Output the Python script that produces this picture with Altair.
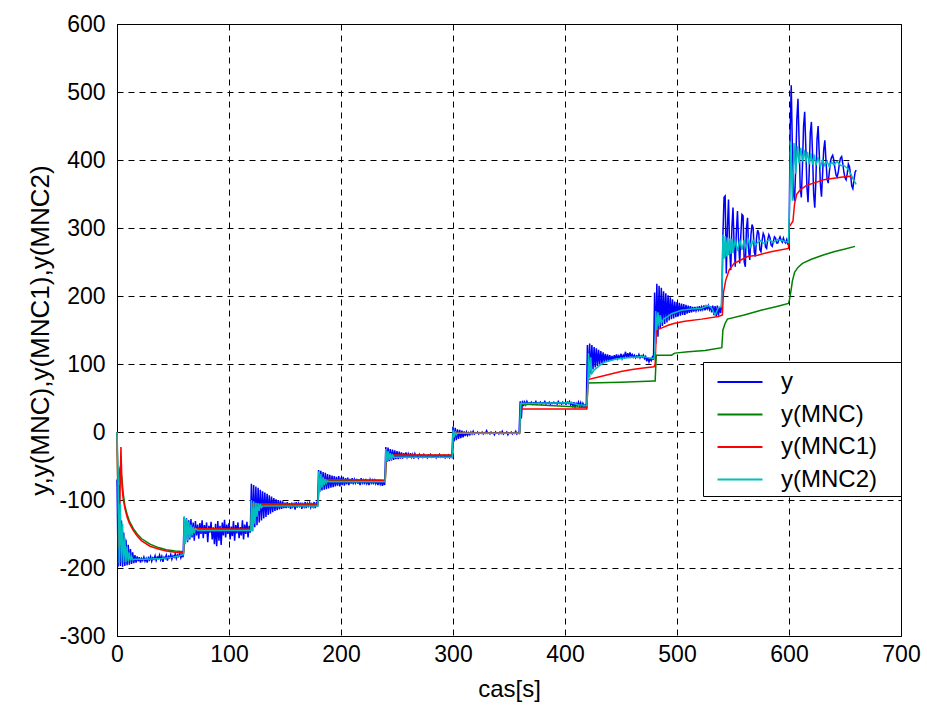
import altair as alt
import pandas as pd

SERIES = ["y", "y(MNC)", "y(MNC1)", "y(MNC2)"]
COLORS = ["#0000FF", "#008000", "#FF0000", "#00BFBF"]
X_TICKS = [0, 100, 200, 300, 400, 500, 600, 700]
Y_TICKS = [-300, -200, -100, 0, 100, 200, 300, 400, 500, 600]
X_TITLE = "cas[s]"
Y_TITLE = "y,y(MNC),y(MNC1),y(MNC2)"

# measured output y, one value per second, one list per 60 s step
blue_s1 = [-70, -198, -78, -197, -130, -198, -148, -197, -158, -196, -166, -195, -172, -194, -177, -193, -181, -192, -183, -190,
           -184, -192, -186, -189, -184, -190, -186, -192, -185, -188, -183, -190, -185, -187, -182, -189, -184, -186, -181, -188,
           -183, -191, -184, -186, -181, -189, -183, -185, -180, -187, -182, -184, -179, -186, -181, -183, -178, -185, -180, -184]
blue_s2 = [-125, -160, -127, -162, -130, -158, -128, -155, -133, -160, -131, -152, -136, -157, -134, -150, -130, -156, -137, -150,
           -133, -162, -138, -148, -132, -158, -140, -165, -135, -168, -131, -160, -138, -166, -133, -152, -129, -155, -136, -150,
           -134, -158, -139, -153, -131, -160, -137, -149, -133, -156, -140, -152, -130, -158, -136, -150, -132, -155, -138, -148]
blue_s3 = [-76, -146, -78, -140, -80, -137, -82, -133, -85, -130, -87, -127, -89, -125, -91, -122, -93, -120, -95, -118,
           -97, -116, -99, -115, -100, -114, -101, -113, -102, -112, -104, -112, -103, -111, -105, -113, -104, -110, -106, -114,
           -103, -111, -105, -109, -104, -113, -106, -110, -103, -112, -105, -109, -104, -111, -106, -110, -103, -112, -105, -109]
blue_s4 = [-56, -88, -57, -86, -59, -85, -60, -84, -62, -83, -63, -82, -64, -81, -65, -80, -66, -79, -65, -80,
           -67, -78, -66, -79, -68, -77, -67, -78, -69, -76, -68, -77, -70, -75, -69, -76, -70, -78, -68, -75,
           -71, -77, -69, -76, -72, -78, -70, -75, -71, -77, -69, -76, -72, -78, -70, -77, -73, -79, -72, -78]
blue_s5 = [-22, -44, -23, -43, -25, -42, -26, -41, -27, -40, -28, -40, -29, -39, -30, -39, -31, -38, -30, -37,
           -32, -38, -31, -37, -33, -39, -32, -36, -34, -38, -33, -36, -34, -37, -33, -36, -35, -38, -34, -36,
           -33, -37, -35, -36, -34, -38, -35, -36, -33, -37, -35, -36, -34, -38, -35, -37, -34, -38, -35, -37]
blue_s6 = [8, -14, 6, -12, 4, -10, 3, -9, 2, -8, 1, -6, 0, -5, -1, -4, 0, -3, 1, -3,
           -1, -2, 0, -3, -1, -2, 0, -3, -1, -2, 2, -2, -1, -3, 0, -2, -1, -4, 0, -2,
           -1, -3, 0, -2, 1, -3, -1, -2, 0, -4, -1, -2, 0, -3, -1, -2, 1, -3, -1, -2]
blue_s7 = [45, 20, 46, 38, 44, 40, 45, 41, 43, 42, 44, 41, 43, 42, 45, 41, 43, 42, 44, 41,
           43, 42, 45, 41, 43, 42, 44, 41, 43, 42, 44, 42, 43, 41, 45, 42, 43, 41, 44, 42,
           43, 41, 44, 42, 45, 40, 43, 38, 44, 37, 42, 39, 44, 38, 43, 36, 42, 38, 40, 37]
blue_s8 = [128, 80, 130, 86, 128, 92, 125, 95, 123, 97, 121, 99, 119, 101, 117, 103, 115, 104, 114, 104,
           113, 105, 112, 106, 113, 107, 114, 108, 112, 109, 115, 108, 113, 110, 118, 109, 116, 110, 117, 111,
           114, 110, 113, 109, 112, 110, 114, 109, 112, 110, 113, 108, 111, 104, 110, 103, 108, 105, 110, 106]
blue_s9 = [205, 130, 218, 140, 215, 152, 212, 156, 207, 159, 204, 161, 201, 164, 198, 166, 195, 167, 192, 169,
           191, 170, 190, 171, 189, 172, 188, 172, 187, 174, 186, 175, 185, 176, 184, 177, 184, 178, 183, 179,
           185, 178, 184, 180, 186, 179, 185, 181, 186, 180, 185, 176, 186, 172, 185, 170, 186, 171, 184, 175]
blue_s10 = [190, 290, 345, 347, 233, 300, 342, 270, 238, 300, 330, 275, 243, 295, 325, 280, 248, 290, 320, 318,
            250, 243, 300, 315, 265, 253, 290, 305, 300, 265, 258, 285, 297, 292, 268, 265, 282, 292, 288, 272,
            270, 283, 290, 286, 275, 273, 280, 287, 285, 278, 278, 283, 287, 282, 279, 285, 280, 278, 283, 276]
blue_s11 = [275, 440, 510, 420, 350, 340, 390, 460, 490, 430, 360, 345, 390, 450, 471, 420, 360, 338, 380, 440,
            456, 410, 350, 330, 370, 430, 450, 410, 365, 346, 380, 415, 429, 400, 372, 366, 382, 398, 404, 407,
            400, 388, 378, 375, 382, 395, 403, 405, 395, 382, 374, 371, 380, 394, 390, 378, 362, 358, 370, 382, 385]
blue_segments = [blue_s1, blue_s2, blue_s3, blue_s4, blue_s5, blue_s6, blue_s7, blue_s8, blue_s9, blue_s10, blue_s11]

# y(MNC) (time, value)
mnc_pts = [(0, 0), (1, -120), (2, -60), (3, -50), (4.5, -70), (5.5, -90), (7, -108), (9, -121), (11, -131), (14.6, -142),
           (18, -150), (22, -157), (29.5, -165), (37, -170), (44, -173), (52, -175), (59.5, -176),
           (60.5, -142.5), (119.5, -143.5), (120.5, -106.5), (179.5, -106.5), (180.5, -70.5), (239.5, -71.5),
           (240.5, -34.5), (299.5, -34.5), (300.5, -1.5), (359.5, -1.5), (360.5, 41), (419.5, 36),
           (420.5, 72), (450, 73), (479.5, 75), (480.5, 75), (481.5, 113), (495, 113), (498, 116), (510, 118),
           (525, 120), (540, 124), (541, 150), (543, 160), (545, 166), (560, 172), (575, 179), (590, 185),
           (599.5, 189), (600.5, 195), (602, 210), (603, 222), (605, 235), (608, 242), (612, 248), (620, 254),
           (630, 260), (640, 265), (650, 269), (659, 273)]

# y(MNC1)
mnc1_pts = [(0, 0), (0.7, -75), (1.5, -170), (2.5, -110), (3.5, -22), (4.5, -80), (5.5, -98), (7, -112), (9, -125),
            (11, -134), (14.6, -145), (18, -153), (22, -160), (29.5, -168), (37, -172), (44, -175), (52, -177),
            (59.5, -178), (60.5, -142), (119.5, -143), (120.5, -106), (179.5, -106), (180.5, -70), (239.5, -71),
            (240.5, -34), (299.5, -34), (300.5, -1), (359.5, -1), (360.5, 34), (419.5, 34),
            (420.5, 77), (430, 81), (440, 85), (450, 89), (460, 92), (470, 94), (479.5, 96),
            (480.5, 100), (481.5, 150), (485, 152), (492, 157), (498, 160), (507, 163), (522, 166), (537, 170),
            (540.5, 172), (541.5, 205), (543.5, 223), (546.5, 238), (551, 248), (557, 253), (563, 258), (572, 260),
            (584, 265), (599.5, 270), (600.3, 302), (603.5, 310), (605, 336), (607, 350), (610, 356), (616, 363),
            (622, 366), (631, 371), (640, 373), (648, 375), (654, 376), (656, 374), (659, 370)]

# y(MNC2)
mnc2_pts = [(0, 0), (1, -60), (2, -193), (3, -105), (4, -192), (5, -135), (6, -192), (7, -155), (8, -191), (9, -168),
            (10, -190), (11, -177), (12, -189), (13, -183), (14, -188), (16, -187), (25, -187), (40, -186), (50, -184),
            (56, -182), (59.5, -180),
            (60, -124), (61, -165), (62, -128), (63, -160), (64, -132), (65, -156), (66, -136), (67, -152), (68, -139),
            (69, -149), (70, -142), (72, -145), (119.5, -145),
            (120, -100), (121, -146), (122, -102), (123, -135), (124, -104), (125, -125), (126, -105), (127, -116),
            (128, -106), (129, -111), (130, -109), (179.5, -109),
            (180, -58), (181, -88), (182, -62), (183, -82), (184, -66), (185, -78), (186, -69), (187, -75), (188, -72),
            (189, -73), (239.5, -73),
            (240, -25), (241, -43), (242, -28), (243, -41), (244, -31), (245, -39), (246, -34), (247, -37), (299.5, -37),
            (300, 3), (301, -8), (302, 1), (303, -4), (304, -2), (359.5, -2),
            (360.5, 42), (405, 43), (412, 40), (419.5, 39),
            (420.5, 75), (421, 116), (422, 80), (423, 110), (424, 86), (426, 91), (431, 98), (436, 103), (445, 107),
            (454, 109), (469, 111), (475, 109), (479.5, 108),
            (480.5, 120), (481, 178), (482, 150), (483, 176), (484, 156), (485, 172), (486, 160), (488, 166),
            (490, 168), (495, 174), (504, 179), (513, 181), (522, 182), (528, 186), (531, 182), (534, 172),
            (537, 183), (539.5, 184),
            (540.5, 230), (541, 290), (542, 255), (543, 288), (544, 258), (545, 286), (546, 260), (547, 285),
            (548, 262), (549, 284), (550, 263), (552, 283), (554, 266), (556, 283), (558, 268), (560, 282),
            (562, 270), (564, 283), (566, 272), (568, 282), (570, 275), (574, 282), (578, 277), (582, 283),
            (586, 279), (590, 283), (595, 281), (599.5, 279),
            (600.5, 330), (601.5, 427), (603, 340), (604.5, 425), (606, 380), (607.5, 420), (609, 395), (610.5, 418),
            (612, 398), (613.5, 415), (615, 396), (616.5, 412), (618, 394), (619.5, 410), (621, 393), (622.5, 408),
            (624, 392), (626, 404), (628, 390), (630, 400), (632, 392), (634, 398), (636, 390), (638, 397),
            (640, 393), (643, 398), (646, 392), (649, 392), (652, 388), (655, 380), (658, 370), (660, 364)]

rows = []
for k, seg in enumerate(blue_segments):
    for i, v in enumerate(seg):
        rows.append((60 * k + i, v, "y"))
for name, pts in [("y(MNC)", mnc_pts), ("y(MNC1)", mnc1_pts), ("y(MNC2)", mnc2_pts)]:
    for t, v in pts:
        rows.append((t, v, name))
df = pd.DataFrame(rows, columns=["t", "v", "series"])

FONT = "Liberation Sans"
NBSP = "\u00a0"

color = alt.Color(
    "series:N",
    scale=alt.Scale(domain=SERIES, range=COLORS),
    legend=alt.Legend(
        title=NBSP,
        titleOrient="right",
        titlePadding=20,
        titleFontSize=24,
        titleFont=FONT,
        orient="none",
        legendX=586,
        legendY=338,
        direction="vertical",
        fillColor="white",
        strokeColor="black",
        padding=4,
        symbolType="M-1.5,0H1.5",
        symbolSize=900,
        symbolStrokeWidth=1.8,
        symbolOffset=17,
        labelOffset=25,
        labelFontSize=24,
        labelFont=FONT,
        labelColor="black",
        rowPadding=4.5,
    ),
)

x_enc = alt.X(
    "t:Q",
    scale=alt.Scale(domain=[0, 700], nice=False, zero=False),
    axis=alt.Axis(
        values=X_TICKS, title=X_TITLE, grid=True, ticks=False, labelFlush=False, labelOverlap=False,
        labelPadding=7, titleY=41, labelExpr="'' + datum.value",
    ),
)
y_enc = alt.Y(
    "v:Q",
    scale=alt.Scale(domain=[-300, 600], nice=False, zero=False),
    axis=alt.Axis(
        values=Y_TICKS, title=Y_TITLE, grid=True, ticks=False, labelFlush=False, labelOverlap=False,
        labelPadding=12, titleX=-64, titleY=306, titleFontSize=26, labelExpr="'' + datum.value",
    ),
)

base = alt.Chart(df).mark_line(strokeWidth=1.5).encode(x=x_enc, y=y_enc, color=color)
layers = [base.transform_filter(alt.datum.series == s) for s in SERIES]

chart = (
    alt.layer(*layers)
    .properties(
        width=784,
        height=612,
        autosize=alt.AutoSizeParams(type="none"),
        padding={"left": 117, "top": 24, "right": 26, "bottom": 70},
        background="white",
    )
    .configure_view(stroke="black", strokeWidth=1)
    .configure_axis(
        gridColor="black",
        gridDash=[6, 5],
        gridOpacity=1,
        gridWidth=1,
        domainColor="black",
        domainWidth=1,
        labelFont=FONT,
        labelFontSize=23,
        labelColor="black",
        titleFont=FONT,
        titleFontSize=24,
        titleFontWeight="normal",
        titleColor="black",
    )
)

chart.save("out.html", embed_options={"renderer": "svg", "actions": False})
